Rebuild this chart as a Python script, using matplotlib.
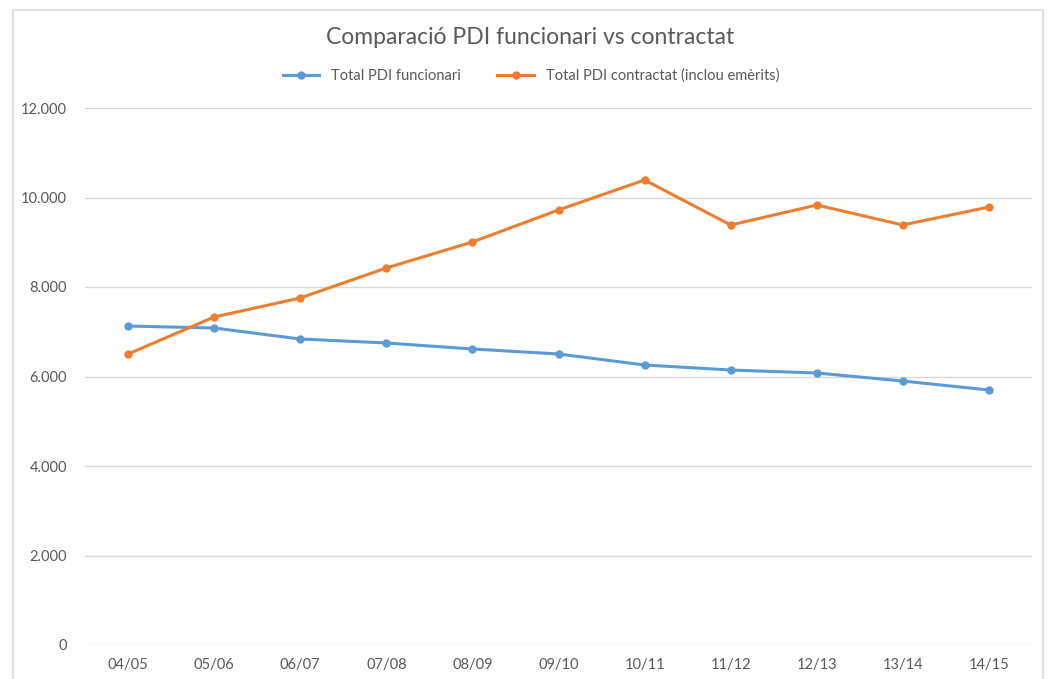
import matplotlib.pyplot as plt
from matplotlib.patches import Rectangle
from matplotlib.ticker import FuncFormatter

plt.rcParams['font.family'] = ['Lato', 'DejaVu Sans']

# Academic years
years = ['04/05', '05/06', '06/07', '07/08', '08/09', '09/10',
         '10/11', '11/12', '12/13', '13/14', '14/15']

# Staff counts
funcionari = [7128, 7084, 6838, 6749, 6615, 6503, 6257, 6145, 6078, 5899, 5698]
contractat = [6503, 7330, 7754, 8425, 9006, 9721, 10391, 9385, 9832, 9385, 9788]

grey = '#595959'
blue = '#5B9BD5'
orange = '#ED7D31'

fig = plt.figure(figsize=(10.49, 6.79), dpi=100)
fig.patches.append(Rectangle((13/1049, -0.05), 1030/1049, 1.05 - 10/679,
                             transform=fig.transFigure, fill=False,
                             edgecolor='#d9d9d9', lw=1.2))

ax = fig.add_axes([85/1049, 34/679, 947/1049, 537/679])
x = range(len(years))
ax.plot(x, funcionari, '-o', color=blue, lw=2.2, ms=5, label='Total PDI funcionari')
ax.plot(x, contractat, '-o', color=orange, lw=2.2, ms=5,
        label='Total PDI contractat (inclou emèrits)')

ax.set_xlim(-0.5, len(years) - 0.5)
ax.set_ylim(0, 12000)
ax.set_yticks(range(0, 12001, 2000))
ax.yaxis.set_major_formatter(FuncFormatter(lambda v, p: f'{int(v):,}'.replace(',', '.')))
ax.set_xticks(list(x))
ax.set_xticklabels(years)
ax.tick_params(length=0, colors=grey, labelsize=10.5)
ax.tick_params(axis='y', pad=13)
ax.tick_params(axis='x', pad=9)
ax.grid(axis='y', color='#d9d9d9', lw=1)
ax.set_axisbelow(True)
for s in ax.spines.values():
    s.set_visible(False)

fig.text(530/1049, 1 - 37/679, 'Comparació PDI funcionari vs contractat',
         ha='center', va='center', fontsize=16.5, color=grey)
fig.legend(loc='center', bbox_to_anchor=(531/1049, 1 - 76/679), ncol=2,
           frameon=False, fontsize=10.5, labelcolor=grey, columnspacing=2.5,
           handlelength=2.5)

plt.savefig('out.png', dpi=100)
